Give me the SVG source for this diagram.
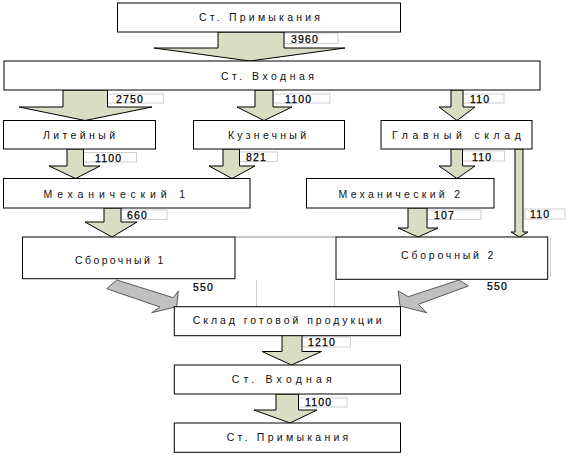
<svg xmlns="http://www.w3.org/2000/svg" width="570" height="457" viewBox="0 0 570 457">
<style>
.box{fill:#fff;stroke:#000;stroke-width:1}
.t{font-family:"Liberation Sans",Arial,sans-serif;font-size:10.5px;fill:#111}
.n{font-family:"Liberation Sans",Arial,sans-serif;font-size:10.5px;fill:#000;stroke:#000;stroke-width:0.25;letter-spacing:1.2px}
.ar{fill:#d9ddc3;stroke:#000;stroke-width:1;stroke-linejoin:miter}
.ga{fill:#c0c0c0;stroke:#5a5a5a;stroke-width:1}
.lb{fill:#fff;stroke:#cfcfcf;stroke-width:1}
.fl{stroke:#d0d0d0;stroke-width:1;fill:none}
</style>
<rect width="570" height="457" fill="#fff"/>
<g id="faint">
<line x1="235" y1="237" x2="336" y2="237" stroke="#777" stroke-width="0.8"/>
<line class="fl" x1="256.5" y1="280" x2="256.5" y2="306.5"/>
<line class="fl" x1="334.5" y1="279" x2="334.5" y2="306.5"/>
<line class="fl" x1="550.5" y1="237" x2="550.5" y2="278"/>
</g>
<g id="connectors">
<rect class="lb" x="284" y="33" width="54" height="10.5"/>
<rect class="lb" x="107.5" y="94" width="56" height="9"/>
<rect class="lb" x="273" y="94" width="57" height="9"/>
<rect class="lb" x="463" y="94" width="41" height="9"/>
<rect class="lb" x="83.5" y="152.5" width="53" height="9.5"/>
<rect class="lb" x="239.5" y="152" width="38" height="9.5"/>
<rect class="lb" x="462.5" y="151" width="42" height="10"/>
<rect class="lb" x="121" y="210" width="46" height="9.5"/>
<rect class="lb" x="427" y="210" width="54" height="9.5"/>
<rect class="lb" x="525" y="209" width="40" height="10"/>
<rect class="lb" x="302" y="337" width="48.5" height="10"/>
<rect class="lb" x="298.5" y="398" width="48.5" height="9"/>
<polygon class="ar" points="218,32 284,32 284,48 345,48 250,61 154,48 218,48"/>
<polygon class="ar" points="63,90 107.5,90 107.5,107 152,107 85,120.5 19,107 63,107"/>
<polygon class="ar" points="255,90 273,90 273,107 292,107 264,120.5 237,107 255,107"/>
<polygon class="ar" points="451,90 463,90 463,107 475,107 457,120.5 439,107 451,107"/>
<polygon class="ar" points="67,149 83.5,149 83.5,166 100,166 75.5,178.5 49,166 67,166"/>
<polygon class="ar" points="223,149 239.5,149 239.5,166 255,166 232,178.5 209,166 223,166"/>
<polygon class="ar" points="451,149 462.5,149 462.5,166 475,166 457,178.5 439,166 451,166"/>
<polygon class="ar" points="515,149 523,149 523,232 528,232 519.5,237 511,232 515,232"/>
<polygon class="ar" points="104,208 121,208 121,222 137,222 112,237 85,222 104,222"/>
<polygon class="ar" points="408,208 427,208 427,228 438,228 418,237 398,228 408,228"/>
<polygon class="ar" points="282,335.5 302,335.5 302,351.5 321.5,351.5 291.5,365 262,351.5 282,351.5"/>
<polygon class="ar" points="276,394 298.5,394 298.5,410 317,410 290,423 254,410 276,410"/>
<polygon class="ga" points="116.7,280 173.3,297.7 178.3,291 176.7,306.7 151.7,312.7 160,307 106.7,288.7"/>
<polygon class="ga" points="459,280 468.3,286 418.3,304.3 426.7,312.7 400,306 398.3,291 408.3,296.7"/>
<text class="n" x="291" y="43">3960</text>
<text class="n" x="116" y="102.5">2750</text>
<text class="n" x="285" y="102.5">1100</text>
<text class="n" x="470" y="102.5">110</text>
<text class="n" x="95" y="161.5">1100</text>
<text class="n" x="246" y="161">821</text>
<text class="n" x="472" y="160.5">110</text>
<text class="n" x="127" y="219">660</text>
<text class="n" x="434" y="219">107</text>
<text class="n" x="530" y="218">110</text>
<text class="n" x="193" y="291">550</text>
<text class="n" x="487" y="289.5">550</text>
<text class="n" x="308" y="346">1210</text>
<text class="n" x="305" y="406">1100</text>
</g>
<g id="n1"><rect class="box" x="117.5" y="3" width="283" height="29"/><text class="t" x="199" y="21" textLength="121" lengthAdjust="spacing">Ст. Примыкания</text></g>
<g id="n2"><rect class="box" x="4" y="61" width="536" height="29"/><text class="t" x="221" y="79.5" textLength="93" lengthAdjust="spacing">Ст. Входная</text></g>
<g id="n3"><rect class="box" x="3.5" y="120.5" width="152" height="28.5"/><text class="t" x="43" y="138.7" textLength="72" lengthAdjust="spacing">Литейный</text></g>
<g id="n4"><rect class="box" x="193.5" y="120.5" width="151" height="28.5"/><text class="t" x="228" y="138.7" textLength="78" lengthAdjust="spacing">Кузнечный</text></g>
<g id="n5"><rect class="box" x="381" y="120.5" width="151" height="28.5"/><text class="t" x="392" y="138.7" textLength="129" lengthAdjust="spacing">Главный склад</text></g>
<g id="n6"><rect class="box" x="3.5" y="178.5" width="246.5" height="29.5"/><text class="t" x="43.5" y="198" textLength="141.5" lengthAdjust="spacing">Механический 1</text></g>
<g id="n7"><rect class="box" x="306.5" y="178.5" width="187.5" height="29.5"/><text class="t" x="338.5" y="198" textLength="121.5" lengthAdjust="spacing">Механический 2</text></g>
<g id="n8"><rect class="box" x="22.5" y="237" width="212.5" height="41.7"/><text class="t" x="75" y="264" textLength="88.3" lengthAdjust="spacing">Сборочный 1</text></g>
<g id="n9"><rect class="box" x="336" y="237" width="211.7" height="42.3"/><text class="t" x="401" y="258.7" textLength="92.3" lengthAdjust="spacing">Сборочный 2</text></g>
<g id="n10"><rect class="box" x="174.3" y="306.7" width="226.2" height="29"/><text class="t" x="192.7" y="324.3" textLength="189" lengthAdjust="spacing">Склад готовой продукции</text></g>
<g id="n11"><rect class="box" x="174.3" y="365" width="226.2" height="29"/><text class="t" x="231.7" y="382.7" textLength="100" lengthAdjust="spacing">Ст. Входная</text></g>
<g id="n12"><rect class="box" x="174.3" y="423" width="226.2" height="29.3"/><text class="t" x="226.7" y="441" textLength="121.6" lengthAdjust="spacing">Ст. Примыкания</text></g>
</svg>
